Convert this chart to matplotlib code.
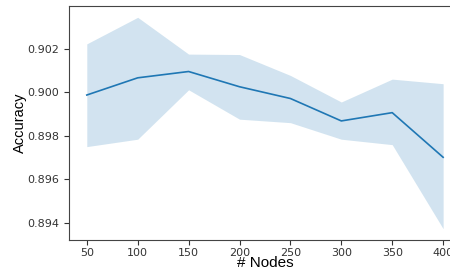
import matplotlib
matplotlib.use("Agg")
import matplotlib.pyplot as plt
import numpy as np

# number of nodes vs accuracy (mean and spread)
nodes = [50, 100, 150, 200, 250, 300, 350, 400]
acc_mean = [0.89988, 0.90067, 0.90096, 0.90026, 0.89972, 0.89869, 0.89907, 0.89702]
acc_upper = [0.90223, 0.90345, 0.90176, 0.90174, 0.90078, 0.89956, 0.90061, 0.90040]
acc_lower = [0.89751, 0.89785, 0.90012, 0.89877, 0.89861, 0.89785, 0.89760, 0.89374]


def main():
    fig = plt.figure(figsize=(4.5, 2.71), dpi=100)
    # axes run past the right edge, like the cropped original
    ax = fig.add_axes([0.1533, 0.1144, 0.871, 0.8635])

    ax.plot(nodes, acc_mean, color="#1f77b4", linewidth=1.2)
    ax.fill_between(nodes, acc_lower, acc_upper, color="#1f77b4", alpha=0.2, linewidth=0)

    ax.set_xlim(32.5, 417.5)
    ax.set_ylim(0.89322, 0.90397)
    ax.set_xticks(nodes)
    ax.set_yticks([0.894, 0.896, 0.898, 0.900, 0.902])
    ax.yaxis.set_major_formatter(matplotlib.ticker.FormatStrFormatter("%.3f"))
    ax.tick_params(labelsize=8, colors="#333333", length=3.5)
    ax.tick_params(axis="x", pad=2)

    for s in ["left", "bottom", "top"]:
        ax.spines[s].set_color("#444444")
    ax.spines["right"].set_visible(False)

    ax.set_xlabel("# Nodes", fontsize=11, family="Liberation Sans", labelpad=-1)
    ax.set_ylabel("Accuracy", fontsize=10.5, family="Liberation Sans", labelpad=0)

    fig.savefig("out.png", dpi=100)


if __name__ == "__main__":
    main()
